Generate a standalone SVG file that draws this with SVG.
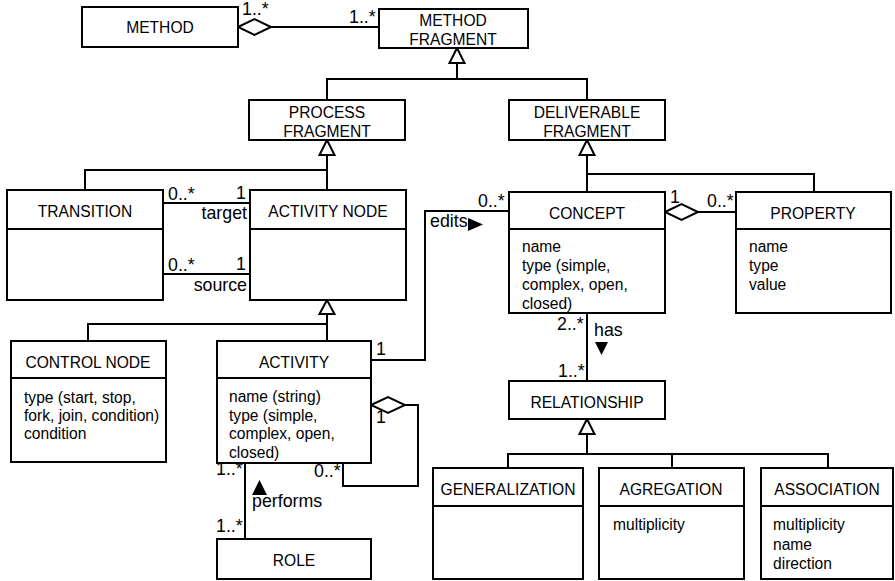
<svg xmlns="http://www.w3.org/2000/svg" width="895" height="581" viewBox="0 0 895 581">
  <defs>
    <style>
      .box { fill: #ffffff; stroke: #000000; stroke-width: 2; }
      .div { stroke: #000000; stroke-width: 2; fill: none; }
      .ln { stroke: #000000; stroke-width: 2; fill: none; }
      .hollow { fill: #ffffff; stroke: #000000; stroke-width: 2; stroke-linejoin: miter; }
      .solid { fill: #000000; stroke: none; }
      text { font-family: "Liberation Sans", Arial, sans-serif; font-size: 15.6px; fill: #000000; }
      .lbl { font-size: 17.8px; }
      .c { text-anchor: middle; }
      .r { text-anchor: end; }
    </style>
  </defs>
  <rect width="895" height="581" fill="#ffffff"/>

  <!-- connectors -->
  <g id="connectors">
    <!-- METHOD aggregates METHOD FRAGMENT -->
    <line class="ln" x1="271" y1="27" x2="379" y2="27"/>
    <polygon class="hollow" points="238,27 254.5,19 271,27 254.5,35"/>
    <!-- METHOD FRAGMENT generalization -->
    <polyline class="ln" points="457,63 457,79"/>
    <polyline class="ln" points="327,100 327,79 587,79 587,100"/>
    <polygon class="hollow" points="457,48 449.5,63 464.5,63"/>
    <!-- PROCESS FRAGMENT generalization -->
    <polyline class="ln" points="327,155 327,190"/>
    <polyline class="ln" points="85,190 85,170 327,170"/>
    <polygon class="hollow" points="327,140 319.5,155 334.5,155"/>
    <!-- DELIVERABLE FRAGMENT generalization -->
    <polyline class="ln" points="587,155 587,192"/>
    <polyline class="ln" points="587,174 814,174 814,192"/>
    <polygon class="hollow" points="587,140 579.5,155 594.5,155"/>
    <!-- ACTIVITY NODE generalization -->
    <polyline class="ln" points="327,314 327,341"/>
    <polyline class="ln" points="88,341 88,324 327,324"/>
    <polygon class="hollow" points="327,300 319.5,314 334.5,314"/>
    <!-- RELATIONSHIP generalization -->
    <polyline class="ln" points="587,434 587,454"/>
    <polyline class="ln" points="508,468 508,454 828,454 828,468"/>
    <line class="ln" x1="672" y1="454" x2="672" y2="468"/>
    <polygon class="hollow" points="587,419 579.5,434 594.5,434"/>
    <!-- TRANSITION target / source -->
    <line class="ln" x1="163" y1="203" x2="250" y2="203"/>
    <line class="ln" x1="163" y1="274" x2="250" y2="274"/>
    <!-- ACTIVITY edits CONCEPT -->
    <polyline class="ln" points="371,360 425,360 425,211 509,211"/>
    <!-- CONCEPT has RELATIONSHIP -->
    <line class="ln" x1="587" y1="313" x2="587" y2="381"/>
    <!-- CONCEPT aggregates PROPERTY -->
    <line class="ln" x1="698" y1="212" x2="736" y2="212"/>
    <polygon class="hollow" points="665,212 681.5,204 698,212 681.5,220"/>
    <!-- ACTIVITY self aggregation -->
    <polyline class="ln" points="405,405 418,405 418,486 343,486 343,463"/>
    <polygon class="hollow" points="371,405 388,397 405,405 388,413"/>
    <!-- ROLE performs ACTIVITY -->
    <line class="ln" x1="245" y1="463" x2="245" y2="539"/>

    <!-- multiplicities and roles -->
    <text class="lbl" x="242" y="15">1..*</text>
    <text class="lbl" x="349" y="23">1..*</text>
    <text class="lbl" x="168" y="200">0..*</text>
    <text class="lbl r" x="246" y="199">1</text>
    <text class="lbl r" x="247" y="219">target</text>
    <text class="lbl" x="168" y="271">0..*</text>
    <text class="lbl r" x="246" y="270">1</text>
    <text class="lbl r" x="247" y="291">source</text>
    <text class="lbl" x="430" y="227">edits</text>
    <polygon class="solid" points="468,218 483,224.5 468,231"/>
    <text class="lbl" x="478" y="207">0..*</text>
    <text class="lbl" x="376" y="355">1</text>
    <text class="lbl" x="670" y="203">1</text>
    <text class="lbl" x="707" y="207">0..*</text>
    <text class="lbl" x="557" y="330">2..*</text>
    <text class="lbl" x="594" y="336">has</text>
    <polygon class="solid" points="595,342 608,342 601.5,355"/>
    <text class="lbl" x="558" y="377">1..*</text>
    <text class="lbl" x="376" y="423">1</text>
    <text class="lbl" x="314" y="477">0..*</text>
    <text class="lbl" x="216" y="475">1..*</text>
    <polygon class="solid" points="252,495 267,495 259.5,480"/>
    <text class="lbl" x="252" y="507">performs</text>
    <text class="lbl" x="216" y="532">1..*</text>
  </g>

  <g id="method">
    <rect class="box" x="82" y="7" width="156" height="40"/>
    <text class="c" x="160" y="33">METHOD</text>
  </g>

  <g id="method-fragment">
    <rect class="box" x="379" y="9" width="149" height="39"/>
    <text class="c" x="453" y="26">METHOD</text>
    <text class="c" x="453" y="45">FRAGMENT</text>
  </g>

  <g id="process-fragment">
    <rect class="box" x="249" y="100" width="156" height="40"/>
    <text class="c" x="327" y="118">PROCESS</text>
    <text class="c" x="327" y="137">FRAGMENT</text>
  </g>

  <g id="deliverable-fragment">
    <rect class="box" x="509" y="100" width="156" height="40"/>
    <text class="c" x="587" y="118">DELIVERABLE</text>
    <text class="c" x="587" y="137">FRAGMENT</text>
  </g>

  <g id="transition">
    <rect class="box" x="7" y="190" width="156" height="110"/>
    <line class="div" x1="7" y1="229" x2="163" y2="229"/>
    <text class="c" x="85" y="217">TRANSITION</text>
  </g>

  <g id="activity-node">
    <rect class="box" x="250" y="190" width="156" height="110"/>
    <line class="div" x1="250" y1="229" x2="406" y2="229"/>
    <text class="c" x="328" y="217">ACTIVITY NODE</text>
  </g>

  <g id="concept">
    <rect class="box" x="509" y="192" width="156" height="121"/>
    <line class="div" x1="509" y1="229" x2="665" y2="229"/>
    <text class="c" x="587" y="219">CONCEPT</text>
    <text x="522" y="252">name</text>
    <text x="522" y="271">type (simple,</text>
    <text x="522" y="290">complex, open,</text>
    <text x="522" y="309">closed)</text>
  </g>

  <g id="property">
    <rect class="box" x="736" y="192" width="155" height="121"/>
    <line class="div" x1="736" y1="229" x2="891" y2="229"/>
    <text class="c" x="813" y="219">PROPERTY</text>
    <text x="749" y="252">name</text>
    <text x="749" y="271">type</text>
    <text x="749" y="290">value</text>
  </g>

  <g id="control-node">
    <rect class="box" x="11" y="341" width="155" height="121"/>
    <line class="div" x1="11" y1="378" x2="166" y2="378"/>
    <text class="c" x="88" y="368">CONTROL NODE</text>
    <text x="24" y="403">type (start, stop,</text>
    <text x="24" y="421">fork, join, condition)</text>
    <text x="24" y="439">condition</text>
  </g>

  <g id="activity">
    <rect class="box" x="217" y="341" width="154" height="122"/>
    <line class="div" x1="217" y1="378" x2="371" y2="378"/>
    <text class="c" x="294" y="368">ACTIVITY</text>
    <text x="229" y="402">name (string)</text>
    <text x="229" y="420.5">type (simple,</text>
    <text x="229" y="439">complex, open,</text>
    <text x="229" y="457.5">closed)</text>
  </g>

  <g id="role">
    <rect class="box" x="217" y="539" width="154" height="40"/>
    <text class="c" x="294" y="566">ROLE</text>
  </g>

  <g id="relationship">
    <rect class="box" x="509" y="381" width="156" height="38"/>
    <text class="c" x="587" y="408">RELATIONSHIP</text>
  </g>

  <g id="generalization">
    <rect class="box" x="433" y="468" width="150" height="111"/>
    <line class="div" x1="433" y1="506" x2="583" y2="506"/>
    <text class="c" x="508" y="495">GENERALIZATION</text>
  </g>

  <g id="agregation">
    <rect class="box" x="599" y="468" width="145" height="111"/>
    <line class="div" x1="599" y1="506" x2="744" y2="506"/>
    <text class="c" x="671" y="495">AGREGATION</text>
    <text x="613" y="530">multiplicity</text>
  </g>

  <g id="association">
    <rect class="box" x="761" y="468" width="132" height="111"/>
    <line class="div" x1="761" y1="506" x2="893" y2="506"/>
    <text class="c" x="827" y="495">ASSOCIATION</text>
    <text x="773" y="530">multiplicity</text>
    <text x="773" y="550">name</text>
    <text x="773" y="569">direction</text>
  </g>
</svg>
